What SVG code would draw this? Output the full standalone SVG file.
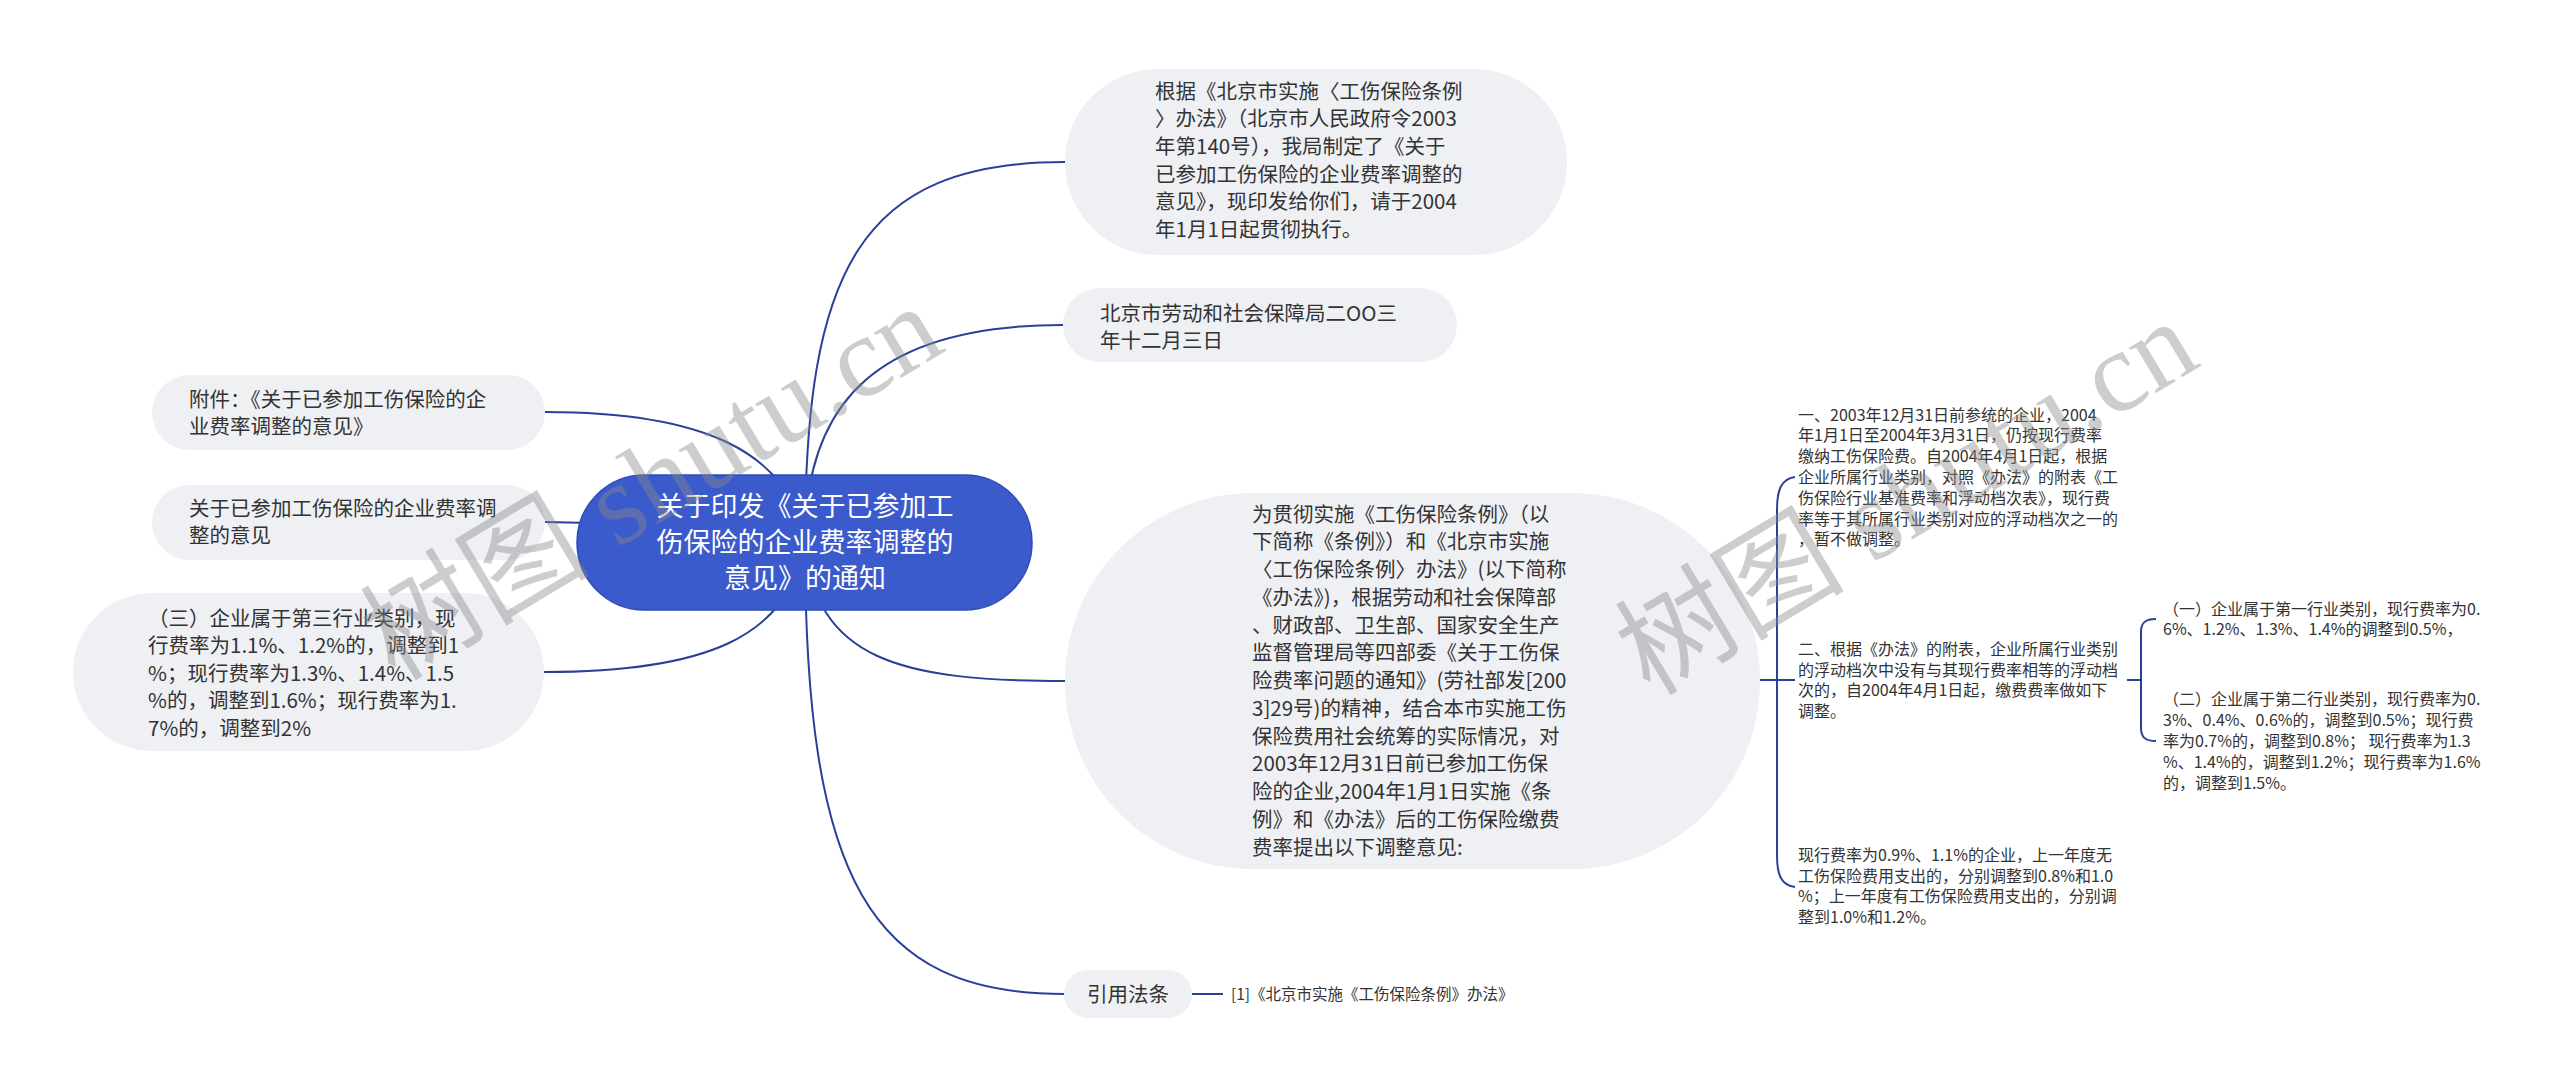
<svg xmlns="http://www.w3.org/2000/svg" width="2560" height="1086" viewBox="0 0 2560 1086">
<style>
.bg{fill:#eef0f4}
.t{font-family:"Noto Sans CJK SC","Noto Sans",sans-serif;fill:#333333;font-size:20.5px}
.s{font-family:"Noto Sans CJK SC","Noto Sans",sans-serif;fill:#333333;font-size:16px}
.r{font-family:"Noto Sans CJK SC","Noto Sans",sans-serif;fill:#ffffff;font-size:27px}
.c{fill:none;stroke:#2b3f99;stroke-width:2}
.wm{font-family:"Liberation Serif","Noto Sans CJK SC",serif;fill:#8a8a8a;opacity:0.42;font-size:115px}
</style>
<rect width="2560" height="1086" fill="#ffffff"/>
<g id="connectors">
<path class="c" d="M805,542 C805,270 860,162 1065,162"/>
<path class="c" d="M805,542 C805,400 880,325 1063,325"/>
<path class="c" d="M805,542 C815,660 900,681 1065,681"/>
<path class="c" d="M805,542 C805,880 870,994 1064,994"/>
<path class="c" d="M545,412 C700,412 790,450 805,542"/>
<path class="c" d="M545,522 C650,522 700,542 805,542"/>
<path class="c" d="M544,672 C700,672 790,640 805,542"/>
<path class="c" d="M1192,994 H1223"/>
<path class="c" d="M1760,680 H1795"/>
<path class="c" d="M1795,477 C1781,479 1777,490 1777,510 V855 C1777,875 1781,885 1795,887"/>
<path class="c" d="M2127,680 H2141"/>
<path class="c" d="M2156,619 C2145,619 2141,623 2141,632 V728 C2141,737 2145,741 2156,741"/>
</g>
<g id="root">
<rect x="577" y="475" width="455" height="135" rx="67.5" fill="#3b5bcc" stroke="#2e4cb5" stroke-width="1.5"/>
<text class="r" text-anchor="middle"><tspan x="805" y="516">关于印发《关于已参加工</tspan><tspan x="805" y="552">伤保险的企业费率调整的</tspan><tspan x="805" y="588">意见》的通知</tspan></text>
</g>
<g id="n1">
<rect class="bg" x="1065" y="69" width="502" height="186" rx="93"/>
<text class="t"><tspan x="1155" y="98.5">根据《北京市实施〈工伤保险条例</tspan><tspan x="1155" y="126.2">〉办法》（北京市人民政府令2003</tspan><tspan x="1155" y="153.9">年第140号），我局制定了《关于</tspan><tspan x="1155" y="181.6">已参加工伤保险的企业费率调整的</tspan><tspan x="1155" y="209.3">意见》，现印发给你们，请于2004</tspan><tspan x="1155" y="237">年1月1日起贯彻执行。</tspan></text>
</g>
<g id="n2">
<rect class="bg" x="1063" y="288" width="394" height="74" rx="37"/>
<text class="t"><tspan x="1100" y="320.5">北京市劳动和社会保障局二OO三</tspan><tspan x="1100" y="348">年十二月三日</tspan></text>
</g>
<g id="n3">
<rect class="bg" x="1065" y="493" width="695" height="376" rx="188"/>
<text class="t"><tspan x="1252" y="521.5">为贯彻实施《工伤保险条例》（以</tspan><tspan x="1252" y="549.25">下简称《条例》）和《北京市实施</tspan><tspan x="1252" y="577">〈工伤保险条例〉办法》(以下简称</tspan><tspan x="1252" y="604.75">《办法》)，根据劳动和社会保障部</tspan><tspan x="1252" y="632.5">、财政部、卫生部、国家安全生产</tspan><tspan x="1252" y="660.25">监督管理局等四部委《关于工伤保</tspan><tspan x="1252" y="688">险费率问题的通知》(劳社部发[200</tspan><tspan x="1252" y="715.75">3]29号)的精神，结合本市实施工伤</tspan><tspan x="1252" y="743.5">保险费用社会统筹的实际情况，对</tspan><tspan x="1252" y="771.25">2003年12月31日前已参加工伤保</tspan><tspan x="1252" y="799">险的企业,2004年1月1日实施《条</tspan><tspan x="1252" y="826.75">例》和《办法》后的工伤保险缴费</tspan><tspan x="1252" y="854.5">费率提出以下调整意见:</tspan></text>
</g>
<g id="n4">
<rect class="bg" x="1064" y="970" width="128" height="48" rx="24"/>
<text class="t" text-anchor="middle" x="1128" y="1001.5">引用法条</text>
</g>
<g id="n4a">
<text class="s" style="font-size:15.5px" x="1231" y="1000">[1]《北京市实施《工伤保险条例》办法》</text>
</g>
<g id="n5">
<rect class="bg" x="152" y="375" width="393" height="75" rx="37.5"/>
<text class="t"><tspan x="189" y="406.5">附件：《关于已参加工伤保险的企</tspan><tspan x="189" y="433.5">业费率调整的意见》</tspan></text>
</g>
<g id="n6">
<rect class="bg" x="152" y="485" width="393" height="75" rx="37.5"/>
<text class="t"><tspan x="189" y="515.5">关于已参加工伤保险的企业费率调</tspan><tspan x="189" y="543">整的意见</tspan></text>
</g>
<g id="n7">
<rect class="bg" x="73" y="593" width="471" height="158" rx="79"/>
<text class="t"><tspan x="148" y="625.5">（三）企业属于第三行业类别，现</tspan><tspan x="148" y="653">行费率为1.1%、1.2%的，调整到1</tspan><tspan x="148" y="680.5">%；现行费率为1.3%、1.4%、1.5</tspan><tspan x="148" y="708">%的，调整到1.6%；现行费率为1.</tspan><tspan x="148" y="735.5">7%的，调整到2%</tspan></text>
</g>
<g id="n8">
<text class="s"><tspan x="1798" y="420.6">一、2003年12月31日前参统的企业，2004</tspan><tspan x="1798" y="441.4">年1月1日至2004年3月31日，仍按现行费率</tspan><tspan x="1798" y="462.2">缴纳工伤保险费。自2004年4月1日起，根据</tspan><tspan x="1798" y="483">企业所属行业类别，对照《办法》的附表《工</tspan><tspan x="1798" y="503.8">伤保险行业基准费率和浮动档次表》，现行费</tspan><tspan x="1798" y="524.6">率等于其所属行业类别对应的浮动档次之一的</tspan><tspan x="1798" y="545.4">，暂不做调整。</tspan></text>
</g>
<g id="n9">
<text class="s"><tspan x="1798" y="654.8">二、根据《办法》的附表，企业所属行业类别</tspan><tspan x="1798" y="675.6">的浮动档次中没有与其现行费率相等的浮动档</tspan><tspan x="1798" y="696.4">次的，自2004年4月1日起，缴费费率做如下</tspan><tspan x="1798" y="717.2">调整。</tspan></text>
</g>
<g id="n10">
<text class="s"><tspan x="1798" y="860.8">现行费率为0.9%、1.1%的企业，上一年度无</tspan><tspan x="1798" y="881.6">工伤保险费用支出的，分别调整到0.8%和1.0</tspan><tspan x="1798" y="902.4">%；上一年度有工伤保险费用支出的，分别调</tspan><tspan x="1798" y="923.2">整到1.0%和1.2%。</tspan></text>
</g>
<g id="n11">
<text class="s"><tspan x="2163" y="614.6">（一）企业属于第一行业类别，现行费率为0.</tspan><tspan x="2163" y="635.4">6%、1.2%、1.3%、1.4%的调整到0.5%，</tspan></text>
</g>
<g id="n12">
<text class="s"><tspan x="2163" y="705.4">（二）企业属于第二行业类别，现行费率为0.</tspan><tspan x="2163" y="726.2">3%、0.4%、0.6%的，调整到0.5%；现行费</tspan><tspan x="2163" y="747">率为0.7%的，调整到0.8%； 现行费率为1.3</tspan><tspan x="2163" y="767.8">%、1.4%的，调整到1.2%；现行费率为1.6%</tspan><tspan x="2163" y="788.6">的，调整到1.5%。</tspan></text>
</g>
<g id="watermark">
<text class="wm" x="395" y="682" transform="rotate(-31 395 682)">树图 shutu.cn</text>
<text class="wm" x="1650" y="697" transform="rotate(-31 1650 697)">树图 shutu.cn</text>
</g>
</svg>
